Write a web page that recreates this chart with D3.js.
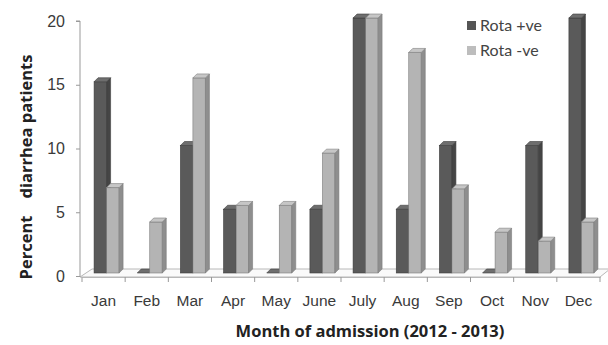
<!DOCTYPE html>
<html>
<head>
<meta charset="utf-8">
<script src="https://cdn.jsdelivr.net/npm/d3@7"></script>
<style>
  html, body { margin: 0; padding: 0; background: #fff; }
  svg { display: block; font-family: Lato, "Open Sans", sans-serif; }
  .title { font-family: "Open Sans", Lato, sans-serif; }
</style>
</head>
<body>
<svg id="chart" width="608" height="345"></svg>
<script>
// Monthly share of diarrhoea patients, rotavirus positive vs negative
const months = ["Jan", "Feb", "Mar", "Apr", "May", "June", "July", "Aug", "Sep", "Oct", "Nov", "Dec"];
const rotaPos = [15, 0, 10, 5, 0, 5, 20, 5, 10, 0, 10, 20];
const rotaNeg = [6.7, 4.0, 15.3, 5.3, 5.3, 9.4, 20, 17.3, 6.6, 3.2, 2.5, 4.0];
const yTicks = [0, 5, 10, 15, 20];
const seriesNames = ["Rota +ve", "Rota -ve"];

const svg = d3.select("#chart");

const x = d3.scaleBand().domain(months).range([82, 600]);
const y = d3.scaleLinear().domain([0, 20]).range([276, 21]);

// depth of the 3D floor and of each column
const floorDx = 10, floorDy = -8;
const depth = 4;
const lift = 3;           // columns stand in the middle of the floor
const barW = 12.5;

// floor
const fy = y(0) + 1;
svg.append("path")
  .attr("d", `M80,${fy} L600,${fy} L${600 + floorDx},${fy + floorDy} L${80 + floorDx + 2},${fy + floorDy} Z`)
  .attr("fill", "#fafafa")
  .attr("stroke", "#b8b8b8")
  .attr("stroke-width", 1);

// value axis
const yAxis = d3.axisLeft(y).tickValues(yTicks).tickSize(4).tickPadding(11);
const gy = svg.append("g").attr("transform", "translate(80,0)").call(yAxis);
gy.select(".domain").attr("stroke", "#999").attr("d", `M-4,${y(20)}H0V${fy}`);
gy.selectAll(".tick line").attr("stroke", "#999");
gy.selectAll(".tick text").attr("fill", "#3a3a3a").attr("font-size", 16);

// category axis
const xAxis = d3.axisBottom(x).tickSize(5).tickPadding(13).tickSizeOuter(0);
const gx = svg.append("g").attr("transform", `translate(0,${fy})`).call(xAxis);
gx.select(".domain").attr("stroke", "#b8b8b8");
gx.selectAll(".tick text").attr("fill", "#3a3a3a").attr("font-size", 15.5);
// ticks sit on the band edges
gx.selectAll(".tick line").remove();
gx.selectAll(".edge")
  .data(months.concat(["end"]))
  .join("line")
  .attr("class", "edge")
  .attr("x1", (d, i) => i < months.length ? x(d) : x.range()[1])
  .attr("x2", (d, i) => i < months.length ? x(d) : x.range()[1])
  .attr("y1", 0).attr("y2", 5)
  .attr("stroke", "#999");

// 3D column
function column(g, x0, v, fill) {
  const base = y(0) - lift;
  const top = y(v) - lift;
  const x1 = x0 + barW;
  if (v > 0) {
    g.append("rect")
      .attr("x", x0).attr("y", top).attr("width", barW).attr("height", base - top)
      .attr("fill", fill.front).attr("stroke", fill.edge).attr("stroke-width", 0.6);
    g.append("path")
      .attr("d", `M${x1},${top} L${x1 + depth},${top - depth} L${x1 + depth},${base - depth} L${x1},${base} Z`)
      .attr("fill", fill.side).attr("stroke", fill.edge).attr("stroke-width", 0.6);
  }
  g.append("path")
    .attr("d", `M${x0},${top} L${x1},${top} L${x1 + depth},${top - depth} L${x0 + depth},${top - depth} Z`)
    .attr("fill", fill.top).attr("stroke", fill.edge).attr("stroke-width", 0.6);
}

const darkFill = { front: "#5a5a5a", side: "#454545", top: "#6e6e6e", edge: "#3c3c3c" };
const lightFill = { front: "#b4b4b4", side: "#8e8e8e", top: "#c6c6c6", edge: "#7c7c7c" };

const bars = svg.append("g");
months.forEach((m, i) => {
  const c = x(m) + x.bandwidth() / 2 + 3;
  const g = bars.append("g");
  column(g, c - barW, rotaPos[i], darkFill);
  column(g, c, rotaNeg[i], lightFill);
});

// legend
const legend = svg.append("g").attr("transform", "translate(467,21)");
seriesNames.forEach((name, i) => {
  const row = legend.append("g").attr("transform", `translate(0,${i * 25})`);
  row.append("rect").attr("width", 9).attr("height", 9)
    .attr("fill", i === 0 ? "#555" : "#bdbdbd");
  row.append("text").attr("x", 13).attr("y", 10)
    .attr("font-size", 16).attr("fill", "#444").text(name);
});

// axis titles
svg.append("text")
  .attr("class", "title")
  .attr("transform", "translate(32,167) rotate(-90)")
  .attr("text-anchor", "middle")
  .attr("font-weight", "bold").attr("font-size", 16.5).attr("fill", "#222")
  .style("white-space", "pre")
  .text("Percent    diarrhea patients");

svg.append("text")
  .attr("class", "title")
  .attr("x", 370).attr("y", 337)
  .attr("text-anchor", "middle")
  .attr("font-weight", "bold").attr("font-size", 16.5).attr("fill", "#222")
  .text("Month of admission (2012 - 2013)");
</script>
</body>
</html>
